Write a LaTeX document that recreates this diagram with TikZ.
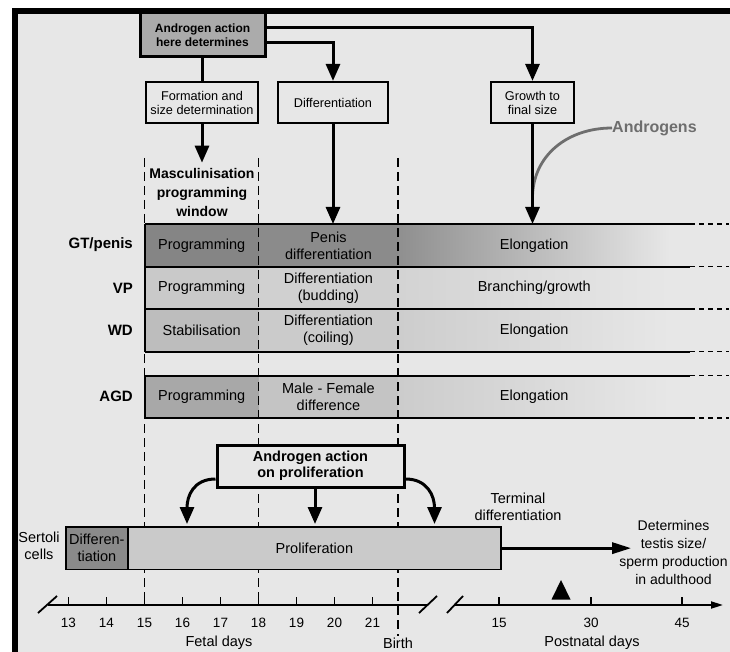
\documentclass[tikz,border=0pt]{standalone}
\usepackage{fontspec}
\setmainfont{Liberation Sans}
\usetikzlibrary{arrows.meta}
\definecolor{bg}{HTML}{E7E7E7}
\definecolor{topg}{HTML}{ABABAB}
\definecolor{gtA}{HTML}{858585}
\definecolor{gtB}{HTML}{8B8B8B}
\definecolor{gtC}{HTML}{8F8F8F}
\definecolor{vpA}{HTML}{C9C9C9}
\definecolor{vpB}{HTML}{D0D0D0}
\definecolor{vpC}{HTML}{D3D3D3}
\definecolor{wdA}{HTML}{BDBDBD}
\definecolor{wdB}{HTML}{CBCBCB}
\definecolor{wdC}{HTML}{CDCDCD}
\definecolor{agA}{HTML}{A8A8A8}
\definecolor{agB}{HTML}{C4C4C4}
\definecolor{agC}{HTML}{CCCCCC}
\definecolor{seA}{HTML}{8A8A8A}
\definecolor{seB}{HTML}{CACACA}
\definecolor{andg}{HTML}{6E6E6E}
\begin{document}
\begin{tikzpicture}[x=1pt,y=-1pt,
  txt/.style={inner sep=0pt, align=center, font=\fontsize{14.5}{17}\selectfont},
  box/.style={draw, line width=2.2pt, fill=bg, font=\fontsize{12.7}{14}\selectfont, align=center, inner sep=0pt, minimum height=41pt},
  conn/.style={line width=3pt},
  arr/.style={-{Triangle[length=17pt,width=14pt]}},
  cell/.style={inner sep=0pt, minimum height=42.5pt, align=center, font=\fontsize{14.5}{17}\selectfont, anchor=north west},
  rowlab/.style={inner sep=0pt, font=\bfseries\fontsize{15}{17}\selectfont, anchor=east},
  vdash/.style={line width=1.8pt, dash pattern=on 9pt off 5pt},
  rowline/.style={line width=2pt},
  rowext/.style={line width=1.8pt, dash pattern=on 5pt off 4pt},
  axis/.style={line width=1.8pt},
  ticklab/.style={inner sep=0pt, font=\fontsize{13.5}{15}\selectfont}
]
\useasboundingbox (0,0) rectangle (730,652);
\fill[white] (0,0) rectangle (730,652);
\fill[bg] (12,8) rectangle (730,652);

% top boxes
\node[box, fill=topg, line width=3pt, font=\bfseries\fontsize{12}{14}\selectfont, minimum width=125pt, minimum height=44pt] (adet) at (202.5,35) {Androgen action\\here determines};
\node[box, minimum width=112pt] (form) at (202,102.5) {Formation and\\size determination};
\node[box, minimum width=110pt] (diff) at (333,102.5) {Differentiation};
\node[box, minimum width=83pt] (grow) at (532.5,102.5) {Growth to\\final size};
\node[inner sep=0pt, align=center, font=\bfseries\fontsize{14}{19}\selectfont] (masc) at (202,192) {Masculinisation\\programming\\window};

% row cells
\node[cell, fill=gtA, minimum width=114pt] (gtp) at (144.5,224) {Programming};
\node[cell, fill=gtB, minimum width=139.5pt] (gtm) at (258.5,224) {Penis\\differentiation};
\node[cell, left color=gtC, right color=bg, minimum width=272pt] (gte) at (398,224) {Elongation};
\node[cell, fill=vpA, minimum width=114pt] (vpp) at (144.5,266.5) {Programming};
\node[cell, fill=vpB, minimum width=139.5pt] (vpm) at (258.5,266.5) {Differentiation\\(budding)};
\node[cell, left color=vpC, right color=bg, minimum width=272pt] (vpe) at (398,266.5) {Branching/growth};
\node[cell, fill=wdA, minimum width=114pt] (wdp) at (144.5,309) {Stabilisation};
\node[cell, fill=wdB, minimum width=139.5pt] (wdm) at (258.5,309) {Differentiation\\(coiling)};
\node[cell, left color=wdC, right color=bg, minimum width=272pt] (wde) at (398,309) {Elongation};
\node[cell, fill=agA, minimum width=114pt] (agp) at (144.5,375.5) {Programming};
\node[cell, fill=agB, minimum width=139.5pt] (agm) at (258.5,375.5) {Male - Female\\difference};
\node[cell, left color=agC, right color=bg, minimum width=272pt] (age) at (398,375.5) {Elongation};

\node[rowlab] (lgt) at (133,245) {GT/penis};
\node[rowlab] (lvp) at (133,288) {VP};
\node[rowlab] (lwd) at (133,330) {WD};
\node[rowlab] (lag) at (133,396.5) {AGD};

% dashed verticals
\draw[vdash] (144.5,158) -- (144.5,604);
\draw[vdash] (258.5,158) -- (258.5,604);
\draw[vdash] (398,158) -- (398,636);

% row lines
\foreach \yy in {224,266.5,309,351.5,375.5,418} {
  \draw[rowline] (144.5,\yy) -- (690,\yy);
  \draw[rowext] (690,\yy) -- (729,\yy);
}
\draw[rowline] (144.5,224) -- (144.5,351.5);
\draw[rowline] (144.5,375.5) -- (144.5,418);

% top connectors
\draw[conn,arr] ([yshift=7pt]adet.east) -| (grow.north);
\draw[conn,arr] ([yshift=-8pt]adet.east) -| (diff.north);
\draw[conn] (adet.south) -- (adet.south |- form.north);
\draw[conn,arr] (form.south) -- ([yshift=5pt]masc.north);
\draw[conn,arr] (diff.south) -- (diff.south |- gtm.north);
\node[inner sep=0pt, anchor=west, text=andg, font=\bfseries\fontsize{16}{18}\selectfont] (andr) at (612,128) {Androgens};
\coordinate (am) at (532.5,198);
\draw[line width=2.8pt, andg] (andr.west) .. controls +(-45,0) and +(0,-42) .. (am);
\draw[conn,arr] (grow.south) -- (grow.south |- gte.north);

% Sertoli
\node[cell, draw, line width=1.8pt, fill=seA, minimum width=62pt, anchor=north west] (sdiff) at (65,526) {Differen-\\tiation};
\node[cell, draw, line width=1.8pt, fill=seB, minimum width=373pt, anchor=north west] (sprol) at (127,526) {Proliferation};
\node[txt] (sert) at (39,546) {Sertoli\\cells};

% androgen action on proliferation
\node[draw, line width=3pt, fill=bg, inner sep=0pt, minimum width=187pt, minimum height=42pt, align=center, font=\bfseries\fontsize{14.5}{16}\selectfont] (apro) at (310.5,466) {Androgen action\\on proliferation};
\draw[conn,arr] ([yshift=-13pt]apro.west) .. controls +(-22,0) and +(0,-28) .. (187,524);
\draw[conn,arr] ([xshift=4.5pt]apro.south) -- ([xshift=4.5pt,yshift=2pt]apro.south |- sprol.north);
\draw[conn,arr] ([yshift=-13pt]apro.east) .. controls +(22,0) and +(0,-28) .. (434.5,524);

\node[txt] (term) at (518,507) {Terminal\\differentiation};
\node[txt, font=\fontsize{14}{18}\selectfont] (det) at (673.5,552) {Determines\\testis size/\\sperm production\\in adulthood};
\coordinate (detin) at ([xshift=12pt]det.west);
\draw[conn, -{Triangle[length=19pt,width=11pt]}] (sprol.east) -- (sprol.east -| detin);

% marker
\fill (561,580) -- (551.5,599.5) -- (570.5,599.5) -- cycle;

% axis
\draw[axis] (48,605) -- (427,605);
\draw[axis] (38,613) -- (57,596);
\draw[axis] (419,613) -- (437,596);
\draw[axis] (447,613) -- (463,596);
\draw[axis, -{Triangle[length=12pt,width=7pt]}] (455,605) -- (723,605);
\foreach \xx/\ll in {68.5/13,106.5/14,144.5/15,182.5/16,220.5/17,258.5/18,296.5/19,334.5/20,372.5/21,499/15,591/30,682/45} {
  \draw[axis] (\xx,605) -- (\xx,597);
  \node[ticklab] (t\xx) at (\xx,623) {\ll};
}
\node[txt] (fetal) at (219,643) {Fetal days};
\node[txt] (birth) at (398,643) {Birth};
\node[txt] (post) at (592,643) {Postnatal days};

% frame
\fill (12,8) rectangle (730,14);
\fill (12,8) rectangle (17.5,652);
\end{tikzpicture}
\end{document}
